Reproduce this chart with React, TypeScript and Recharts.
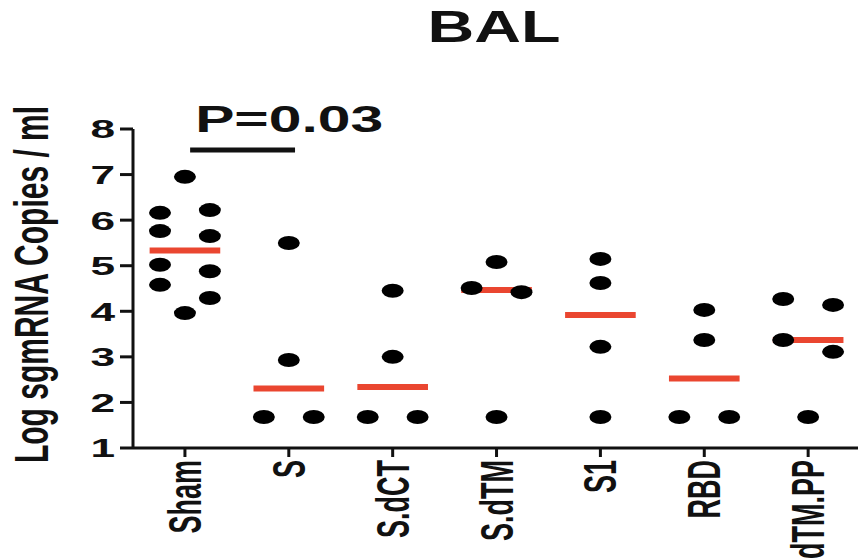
import { ScatterChart, Scatter, XAxis, YAxis, ReferenceLine } from "recharts";

const GROUPS = ["Sham", "S", "S.dCT", "S.dTM", "S1", "RBD", "dTM.PP"];

// log sgmRNA copies / ml, one array per group
const SHAM = [6.95, 6.22, 6.16, 5.76, 5.65, 5.02, 4.88, 4.58, 4.29, 3.96];
const S = [5.5, 2.93, 1.68, 1.68];
const S_DCT = [4.45, 3.0, 1.68, 1.68];
const S_DTM = [5.08, 4.51, 4.42, 1.68];
const S1 = [5.15, 4.62, 3.22, 1.68];
const RBD = [4.03, 3.37, 1.68, 1.68];
const DTM_PP = [4.27, 4.14, 3.37, 3.11, 1.68];

// which column each dot sits in (-1 left, 0 middle, 1 right), like the prism scatter
const SHAM_COL = [0, 1, -1, -1, 1, -1, 1, -1, 1, 0];
const S_COL = [0, 0, -1, 1];
const S_DCT_COL = [0, 0, -1, 1];
const S_DTM_COL = [0, -1, 1, 0];
const S1_COL = [0, 0, 0, 0];
const RBD_COL = [0, 0, -1, 1];
const DTM_PP_COL = [-1, 1, -1, 1, 0];

const Y_TICKS = [1, 2, 3, 4, 5, 6, 7, 8];

const P_TEXT = "P=0.03";
const P_FROM = 0.05;
const P_TO = 1.06;
const P_Y = 7.54;

const VALUES = [SHAM, S, S_DCT, S_DTM, S1, RBD, DTM_PP];
const COLS = [SHAM_COL, S_COL, S_DCT_COL, S_DTM_COL, S1_COL, RBD_COL, DTM_PP_COL];

const SPREAD = 0.24;
const HALF = 0.34;
const FONT = "'Liberation Sans', Arial, sans-serif";
const INK = "#111";
const RED = "#ea4630";

function median(arr: number[]) {
  const s = [...arr].sort((a, b) => a - b);
  const m = Math.floor(s.length / 2);
  return s.length % 2 ? s[m] : (s[m - 1] + s[m]) / 2;
}

const points = VALUES.flatMap((vals, gi) =>
  vals.map((v, j) => ({ x: gi + COLS[gi][j] * SPREAD, y: v }))
);

const medians = VALUES.map((vals, gi) => ({ gi, m: median(vals) }));

function Dot(props: any) {
  return <ellipse cx={props.cx} cy={props.cy} rx={11} ry={7} fill="#000" />;
}

function XTick({ x, y, payload }: any) {
  return (
    <text
      transform={`translate(${x},${y + 3}) scale(1.7,1) rotate(-90)`}
      textAnchor="end"
      dy="0.35em"
      fontSize={27}
      fontWeight="bold"
      fontFamily={FONT}
      fill={INK}
    >
      {GROUPS[payload.value]}
    </text>
  );
}

function YTick({ x, y, payload }: any) {
  return (
    <text
      transform={`translate(${x - 5},${y}) scale(1.7,1)`}
      textAnchor="end"
      dy="0.36em"
      fontSize={26}
      fontWeight="bold"
      fontFamily={FONT}
      fill={INK}
    >
      {payload.value}
    </text>
  );
}

function YLabel({ viewBox }: any) {
  const cy = viewBox.y + viewBox.height / 2 - 4;
  return (
    <text
      transform={`translate(48,${cy}) scale(1.6,1) rotate(-90)`}
      textAnchor="middle"
      fontSize={30}
      fontWeight="bold"
      fontFamily={FONT}
      fill={INK}
    >
      Log sgmRNA Copies / ml
    </text>
  );
}

function PLabel({ viewBox }: any) {
  return (
    <text
      transform={`translate(${viewBox.x + 5},${viewBox.y - 18}) scale(1.59,1)`}
      fontSize={37}
      fontWeight="bold"
      fontFamily={FONT}
      fill={INK}
    >
      {P_TEXT}
    </text>
  );
}

export default function App() {
  return (
    <div style={{ position: "absolute", left: 0, top: 0, width: 858, height: 559, background: "#fff" }}>
      <div
        style={{
          position: "absolute",
          left: 494,
          top: 5,
          fontFamily: FONT,
          fontWeight: "bold",
          fontSize: 44,
          lineHeight: "44px",
          color: INK,
          transform: "translateX(-50%) scaleX(1.47)",
          whiteSpace: "nowrap",
        }}
      >
        BAL
      </div>
      <ScatterChart width={858} height={559} margin={{ top: 129, right: 0, bottom: 0, left: 0 }}>
        <XAxis
          type="number"
          dataKey="x"
          domain={[-0.5, 6.48]}
          ticks={[0, 1, 2, 3, 4, 5, 6]}
          interval={0}
          allowDataOverflow
          height={111}
          tickSize={9}
          tickMargin={0}
          axisLine={{ stroke: INK, strokeWidth: 3 }}
          tickLine={{ stroke: INK, strokeWidth: 3 }}
          tick={<XTick />}
        />
        <YAxis
          type="number"
          dataKey="y"
          domain={[1, 8]}
          ticks={Y_TICKS}
          interval={0}
          width={133}
          tickSize={13}
          tickMargin={0}
          axisLine={{ stroke: INK, strokeWidth: 3 }}
          tickLine={{ stroke: INK, strokeWidth: 3 }}
          tick={<YTick />}
          label={<YLabel />}
        />
        <Scatter data={points} shape={<Dot />} isAnimationActive={false} />
        {medians.map(({ gi, m }) => (
          <ReferenceLine
            key={gi}
            segment={[
              { x: gi - HALF, y: m },
              { x: gi + HALF, y: m },
            ]}
            stroke={RED}
            strokeWidth={6}
          />
        ))}
        <ReferenceLine
          segment={[
            { x: P_FROM, y: P_Y },
            { x: P_TO, y: P_Y },
          ]}
          stroke={INK}
          strokeWidth={5}
          label={<PLabel />}
        />
      </ScatterChart>
    </div>
  );
}
